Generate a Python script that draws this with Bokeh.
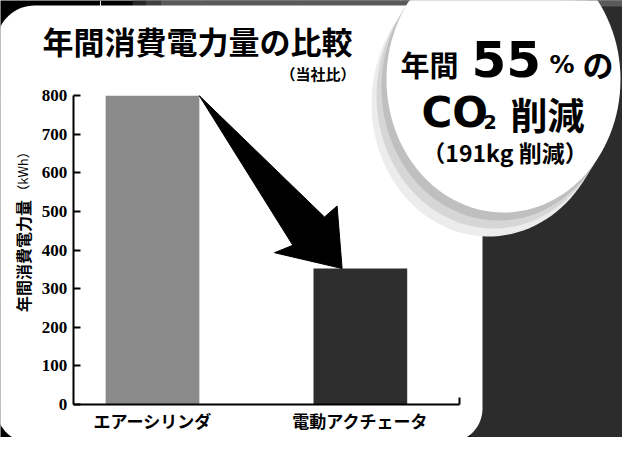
import numpy as np
from bokeh.plotting import figure
from bokeh.models import Range1d, LinearAxis, FixedTicker
from bokeh.core.properties import value
from bokeh.embed import file_html
from bokeh.resources import INLINE

# ---------------- data ----------------
categories = ["エアーシリンダ", "電動アクチェータ"]
energy_kwh = [800, 352]
y_ticks = [0, 100, 200, 300, 400, 500, 600, 700, 800]
title_text = "年間消費電力量の比較"
subtitle_text = "（当社比）"
y_label_main = "年間消費電力量"
y_label_unit = "（kWh）"
badge_pct = "55"
badge_saved = "（191kg 削減）"

# ---------------- layout (canvas px) ----------------
W, H = 622, 437
Y0_PX, Y800_PX = 403.7, 95.3
k = (Y0_PX - Y800_PX) / 800.0          # px per kWh
X0_PX, X1_PX = 152.0, 359.85
sx = X1_PX - X0_PX                     # px per category step
dy_start, dy_end = -(H - Y0_PX) / k, Y0_PX / k
dx_start, dx_end = -X0_PX / sx, (W - X0_PX) / sx
axis_x = (72.7 - X0_PX) / sx
axis_x_end = (459.0 - X0_PX) / sx
bar_w = 93.7 / sx
bar_colors = ["#8a8a8a", "#2e2e2e"]

FONT_JP = value("Noto Sans CJK JP")
FONT_LAT = value("DejaVu Sans")

p = figure(width=W, height=H, x_range=Range1d(0, W), y_range=Range1d(H, 0),
           x_axis_location=None, y_axis_location=None, min_border=0,
           toolbar_location=None, tools="", output_backend="svg",
           background_fill_color="#000000", border_fill_color="#000000",
           outline_line_color=None)
p.extra_x_ranges = {"dx": Range1d(dx_start, dx_end)}
p.extra_y_ranges = {"dy": Range1d(dy_start, dy_end)}

# ---------------- background ----------------
p.quad(left=[132, 145, 160], right=[145, 160, 622], top=[0, 0, 0], bottom=[30, 30, 30],
       fill_color=["#262626", "#404040", "#5a5a5a"], line_color=None)
p.quad(left=[470], right=[622], top=[6], bottom=[437], fill_color="#2c2c2c", line_color=None)


def rounded_rect(x0, y0, x1, y1, r_tl, r_tr, r_br, r_bl, n=18):
    xs, ys = [], []

    def arc(cx, cy, r, a0, a1):
        t = np.linspace(a0, a1, n)
        xs.extend(cx + r * np.cos(t))
        ys.extend(cy + r * np.sin(t))

    arc(x0 + r_tl, y0 + r_tl, r_tl, np.pi, 1.5 * np.pi)
    arc(x1 - r_tr, y0 + r_tr, r_tr, 1.5 * np.pi, 2 * np.pi)
    arc(x1 - r_br, y1 - r_br, r_br, 0, 0.5 * np.pi)
    arc(x0 + r_bl, y1 - r_bl, r_bl, 0.5 * np.pi, np.pi)
    return xs, ys


def ellipse_pts(cx, cy, rx, ry, n=120):
    t = np.linspace(0, 2 * np.pi, n)
    return list(cx + rx * np.cos(t)), list(cy + ry * np.sin(t))


px_, py_ = rounded_rect(-4, 5, 482, 442, 38, 30, 34, 34)
p.patch(px_, py_, fill_color="white", line_color=None)

# badge shadow (lower-left, soft) + badge
cxb, cyb, rxb, ryb = 503, 79, 117, 133
for (ox, oy), col in [((-15, 24), "#ececec"), ((-10, 16), "#d6d6d6"), ((-5, 8), "#bfbfbf")]:
    ex, ey = ellipse_pts(cxb + ox, cyb + oy, rxb, ryb)
    p.patch(ex, ey, fill_color=col, line_color=None)
ex, ey = ellipse_pts(cxb, cyb, rxb, ryb)
p.patch(ex, ey, fill_color="white", line_color=None)

# ---------------- bars ----------------
xs = list(range(len(categories)))
p.vbar(x=xs, top=energy_kwh, bottom=0, width=bar_w, fill_color=bar_colors,
       line_color=None, x_range_name="dx", y_range_name="dy")

# ---------------- arrow (from bar 1 top to bar 2 top) ----------------
start = (xs[0] + bar_w / 2, energy_kwh[0])
tip = (xs[1] - bar_w / 2 + 28.6 / sx, energy_kwh[1])
offs = [(-17.6, -51.5), (-5.0, -62.5), (0, 0), (-67.6, -15.8), (-49.3, -23.2)]
ax = [start[0]] + [tip[0] + dxp / sx for dxp, dyp in offs]
ay = [start[1]] + [tip[1] - dyp / k for dxp, dyp in offs]
p.patch(ax, ay, fill_color="black", line_color="black", line_width=1,
        x_range_name="dx", y_range_name="dy")

# ---------------- axes ----------------
yaxis = LinearAxis(x_range_name="dx", y_range_name="dy", fixed_location=axis_x,
                   bounds=(0, 800), ticker=FixedTicker(ticks=y_ticks))
yaxis.major_tick_in = 7
yaxis.major_tick_out = 0
yaxis.minor_tick_in = 0
yaxis.minor_tick_out = 0
yaxis.axis_line_width = 2
yaxis.major_tick_line_width = 2
yaxis.axis_line_color = "black"
yaxis.major_tick_line_color = "black"
yaxis.major_label_text_font = "Liberation Sans Narrow"
yaxis.major_label_text_font_size = "17px"
yaxis.major_label_text_font_style = "bold"
yaxis.major_label_text_color = "black"
yaxis.major_label_standoff = 6
p.add_layout(yaxis, "left")

xaxis = LinearAxis(x_range_name="dx", y_range_name="dy", fixed_location=0,
                   bounds=(axis_x, axis_x_end + 0.002),
                   ticker=FixedTicker(ticks=xs, minor_ticks=[axis_x_end]))
xaxis.major_label_overrides = {i: c for i, c in enumerate(categories)}
xaxis.major_tick_in = 0
xaxis.major_tick_out = 0
xaxis.major_tick_line_color = None
xaxis.minor_tick_in = 7
xaxis.minor_tick_out = 0
xaxis.minor_tick_line_width = 2
xaxis.minor_tick_line_color = "black"
xaxis.axis_line_width = 2
xaxis.axis_line_color = "black"
xaxis.major_label_text_font = "Noto Sans CJK JP"
xaxis.major_label_text_font_size = "17px"
xaxis.major_label_text_font_style = "bold"
xaxis.major_label_text_color = "black"
xaxis.major_label_standoff = 4
p.add_layout(xaxis, "below")

# ---------------- texts ----------------
def txt(x, y, s, size, font=FONT_JP, style="bold", align="left", baseline="middle", angle=0.0):
    p.text(x=[x], y=[y], text=[s], text_font=font, text_font_size=size,
           text_font_style=style, text_color="black", text_align=align,
           text_baseline=baseline, angle=angle)


txt(42, 39.5, title_text, "31px")
txt(355, 72.5, subtitle_text, "15px", align="right")
txt(22, 255.5, y_label_main, "16px", align="center", angle=np.pi / 2)
txt(22, 171, y_label_unit, "13px", style="normal", align="center", angle=np.pi / 2)

# badge
txt(400, 63.5, "年間", "29px")
txt(471, 58, badge_pct, "50px", font=FONT_LAT)
txt(549, 64, "%", "25px", font=FONT_LAT)
txt(582, 63, "の", "31px")
txt(421, 112, "CO", "42px", font=FONT_LAT)
txt(483, 121.5, "2", "19px", font=FONT_LAT)
txt(510, 113.5, "削減", "37px")
txt(504.5, 151, badge_saved, "23px", align="center")

open("out.html", "w").write(file_html(p, INLINE))
